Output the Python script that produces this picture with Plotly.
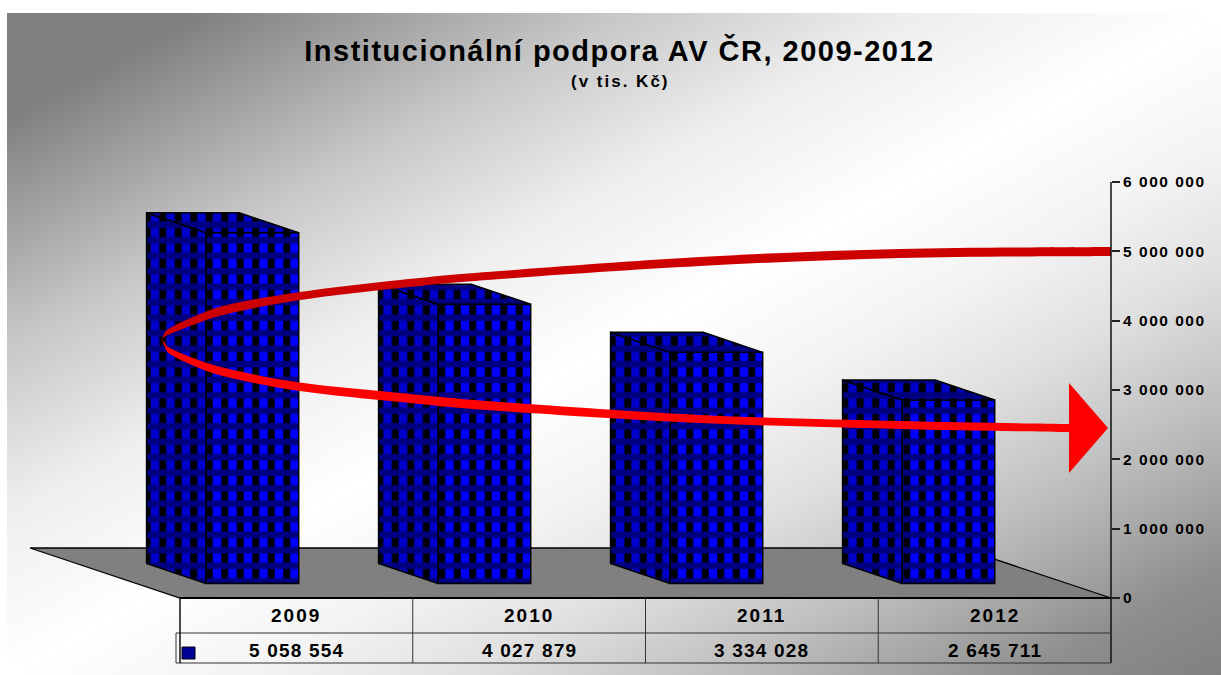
import numpy as np
import plotly.graph_objects as go

# ---- data ----
years = ["2009", "2010", "2011", "2012"]
values = [5058554, 4027879, 3334028, 2645711]
tick_values = [0, 1000000, 2000000, 3000000, 4000000, 5000000, 6000000]
title_text = "Institucionální podpora AV ČR, 2009-2012"
subtitle_text = "(v tis. Kč)"

# ---- geometry of the picture ----
W, H = 1221, 675
BG_L, BG_T = 7, 13
AX_X, ZERO_Y, SIX_Y = 1111, 598, 182
COL_LEFT = 180
COL_W = (AX_X - COL_LEFT) / 4
PX_PER_UNIT = (ZERO_Y - SIX_Y) / 6000000
FIRST_CENTER = COL_LEFT + COL_W / 2
x2_range = [(0 - FIRST_CENTER) / COL_W, (W - FIRST_CENTER) / COL_W]
y2_range = [(ZERO_Y - H) / PX_PER_UNIT, ZERO_Y / PX_PER_UNIT]

BAR_W = 0.398
BAR_OFF = 0.01
BAR_PITCH = 232 / COL_W
BASE = 14.5 / PX_PER_UNIT
DEPTH_X = -59.5 / COL_W
DEPTH_Y = 20 / PX_PER_UNIT

# red ribbon outline, in picture pixels (decoration, not data)
upper_top = [(1111, 247), (900, 249), (700, 257), (500, 271), (400, 280), (300, 292), (227, 305), (193, 317), (170, 328), (164.5, 333), (162, 339)]
upper_bot = [(162, 339), (165, 336.5), (170, 334), (193, 325), (227, 314), (300, 300), (400, 288), (500, 279), (700, 266), (900, 258), (1111, 256)]
lower_top = [(162, 339), (165, 343), (170, 348), (193, 358), (227, 368.5), (300, 382.5), (400, 393), (500, 402), (700, 415), (900, 421), (1070, 424)]
lower_bot = [(1070, 432), (900, 429), (700, 423), (500, 411), (400, 402), (300, 391), (227, 377), (193, 365.5), (170, 354), (165, 347), (162, 339)]


def smooth(points):
    """SVG cubic segments through the points (Catmull-Rom)."""
    out = []
    p = [points[0]] + points + [points[-1]]
    for k in range(1, len(p) - 2):
        a, b, c, d = p[k - 1], p[k], p[k + 1], p[k + 2]
        c1 = (b[0] + (c[0] - a[0]) / 6, b[1] + (c[1] - a[1]) / 6)
        c2 = (c[0] - (d[0] - b[0]) / 6, c[1] - (d[1] - b[1]) / 6)
        out.append(f"C {c1[0]:.1f} {c1[1]:.1f}, {c2[0]:.1f} {c2[1]:.1f}, {c[0]} {c[1]}")
    return " ".join(out)


def ribbon(top, bot):
    return f"M {top[0][0]} {top[0][1]} {smooth(top)} L {bot[0][0]} {bot[0][1]} {smooth(bot)} Z"


def spaced(v):
    return f"{v:,}".replace(",", " ")


def ls(text, px):
    return f'<span style="letter-spacing:{px}px">{text}</span>'


fig = go.Figure()

# background gradient (style only): z is the position along the diagonal
N = 60
dx, dy = (W - BG_L) / N, (H - BG_T) / N
gx = BG_L + dx * (np.arange(N) + 0.5)
gy = BG_T + dy * (np.arange(N) + 0.5)
u, v = np.meshgrid((gx - BG_L) / (W - BG_L), (gy - BG_T) / (H - BG_T))
g = lambda a: f"rgb({a},{a},{a})"
fig.add_trace(go.Heatmap(x=gx, y=gy, z=(u + v) / 2, zmin=0, zmax=1, zsmooth="best",
                         colorscale=[[0, g(128)], [0.08, g(128)], [0.254, g(200)], [0.377, g(238)],
                                     [0.5, g(255)], [0.6, g(243)], [0.69, g(224)], [0.8, g(188)],
                                     [0.92, g(142)], [1, g(128)]],
                         showscale=False, hoverinfo="skip", xaxis="x", yaxis="y"))
# floor
fig.add_trace(go.Scatter(x=[30, 961, AX_X, COL_LEFT, 30], y=[548, 548, ZERO_Y, ZERO_Y, 548],
                         mode="lines", fill="toself", fillcolor="#808080",
                         line=dict(color="black", width=1.3), hoverinfo="skip",
                         showlegend=False, xaxis="x", yaxis="y"))

STRIPE = dict(shape="|", size=15.5, solidity=0.45, fgopacity=1)
BAND = dict(shape="-", size=15.5, solidity=0.42, fgopacity=1)
for i, val in enumerate(values):
    x1 = i * BAR_PITCH + BAR_OFF
    x0 = x1 - BAR_W
    faces = [
        ([x0, x0, x0 + DEPTH_X, x0 + DEPTH_X, x0],
         [BASE, val + BASE, val + BASE + DEPTH_Y, BASE + DEPTH_Y, BASE]),
        ([x0, x1, x1 + DEPTH_X, x0 + DEPTH_X, x0],
         [val + BASE, val + BASE, val + BASE + DEPTH_Y, val + BASE + DEPTH_Y, val + BASE]),
    ]
    for fx, fy in faces:
        fig.add_trace(go.Scatter(x=fx, y=fy, mode="lines", fill="toself", fillcolor="#0000CC",
                                 fillpattern=dict(bgcolor="#0000CC", fgcolor="black", **STRIPE),
                                 line=dict(width=0), hoverinfo="skip", showlegend=False,
                                 xaxis="x2", yaxis="y2"))
        fig.add_trace(go.Scatter(x=fx, y=fy, mode="lines", fill="toself", fillcolor="rgba(0,0,0,0)",
                                 fillpattern=dict(bgcolor="rgba(0,0,0,0)", fgcolor="#000080", **BAND),
                                 line=dict(color="black", width=1.5), hoverinfo="skip", showlegend=False,
                                 xaxis="x2", yaxis="y2"))

front_x = [i * BAR_PITCH + BAR_OFF - BAR_W / 2 for i in range(len(values))]
fig.add_trace(go.Bar(x=front_x, y=values, base=BASE, width=BAR_W,
                     marker=dict(color="#0000FF", opacity=1, line=dict(width=0),
                                 pattern=dict(bgcolor="#0000FF", fgcolor="black", **STRIPE)),
                     hoverinfo="skip", showlegend=False, xaxis="x2", yaxis="y2"))
fig.add_trace(go.Bar(x=front_x, y=values, base=BASE, width=BAR_W,
                     marker=dict(color="rgba(0,0,0,0)", opacity=1, line=dict(color="black", width=1.5),
                                 pattern=dict(bgcolor="rgba(0,0,0,0)", fgcolor="#000080", **BAND)),
                     hoverinfo="skip", showlegend=False, xaxis="x2", yaxis="y2"))

# decoration shapes on the pixel axes
px = dict(xref="x", yref="y", layer="above")
shapes = []
shapes.append(dict(type="path", **px, fillcolor="#CC0000", line=dict(width=0), path=ribbon(upper_top, upper_bot)))
shapes.append(dict(type="path", **px, fillcolor="#FF0000", line=dict(width=0), path=ribbon(lower_top, lower_bot)))
shapes.append(dict(type="path", **px, fillcolor="#FF0000", line=dict(width=0),
                   path="M 1069 383 L 1108 428 L 1069 473 Z"))
# axis + table
LINE = dict(color="#111111", width=1.5)
THIN = dict(color="#333333", width=1)
shapes.append(dict(type="line", **px, x0=AX_X, x1=AX_X, y0=SIX_Y, y1=663, line=LINE))
shapes.append(dict(type="line", **px, x0=COL_LEFT, x1=AX_X, y0=ZERO_Y, y1=ZERO_Y, line=dict(color="black", width=2)))
shapes.append(dict(type="line", **px, x0=176, x1=AX_X, y0=633, y1=633, line=THIN))
shapes.append(dict(type="line", **px, x0=176, x1=AX_X, y0=663, y1=663, line=THIN))
shapes.append(dict(type="line", **px, x0=176, x1=176, y0=633, y1=663, line=THIN))
shapes.append(dict(type="line", **px, x0=COL_LEFT, x1=COL_LEFT, y0=ZERO_Y, y1=663, line=LINE))
for k in (1, 2, 3):
    xx = COL_LEFT + k * COL_W
    shapes.append(dict(type="line", **px, x0=xx, x1=xx, y0=ZERO_Y, y1=663, line=THIN))
# legend key
shapes.append(dict(type="rect", **px, x0=182, x1=195, y0=647, y1=659, fillcolor="#000099",
                   line=dict(color="black", width=1)))

ann = []
for i, (yr, val) in enumerate(zip(years, values)):
    ann.append(dict(x=i, y=615, xref="x2", yref="y", text=ls(yr, 2), showarrow=False,
                    font=dict(family="Liberation Sans", size=19, color="black", weight=700)))
    ann.append(dict(x=i, y=650, xref="x2", yref="y", text=ls(spaced(val), 1.2), showarrow=False,
                    font=dict(family="Liberation Sans", size=19, color="black", weight=700)))
ann.append(dict(x=620, y=81, xref="x", yref="y", text=ls(subtitle_text, 2), showarrow=False,
                font=dict(family="Liberation Sans", size=17, color="black", weight=700)))

fig.update_layout(
    width=W, height=H, margin=dict(l=0, r=0, t=0, b=0, pad=0),
    paper_bgcolor="white", plot_bgcolor="rgba(0,0,0,0)", barmode="overlay", showlegend=False,
    title=dict(text=ls(title_text, 1.5), x=619.5 / W, xanchor="center", y=1 - 51 / H, yanchor="middle",
               font=dict(family="Liberation Sans", size=29, color="black", weight=700)),
    xaxis=dict(range=[0, W], visible=False, domain=[0, 1]),
    yaxis=dict(range=[H, 0], visible=False, domain=[0, 1]),
    xaxis2=dict(range=x2_range, overlaying="x", visible=False, anchor="y2"),
    yaxis2=dict(range=y2_range, overlaying="y", side="right", anchor="free", position=AX_X / W,
                showgrid=False, zeroline=False, showline=False, ticks="outside", ticklen=8,
                tickwidth=1.5, tickcolor="#222222", tickmode="array", tickvals=tick_values,
                ticktext=[ls(spaced(v), 1.5) for v in tick_values],
                tickfont=dict(family="Liberation Sans", size=15.5, color="black", weight=700)),
    shapes=shapes, annotations=ann,
)

fig.write_html("out.html", config={"displayModeBar": False},
               post_script="document.body.style.margin='0';document.body.style.overflow='hidden';")
